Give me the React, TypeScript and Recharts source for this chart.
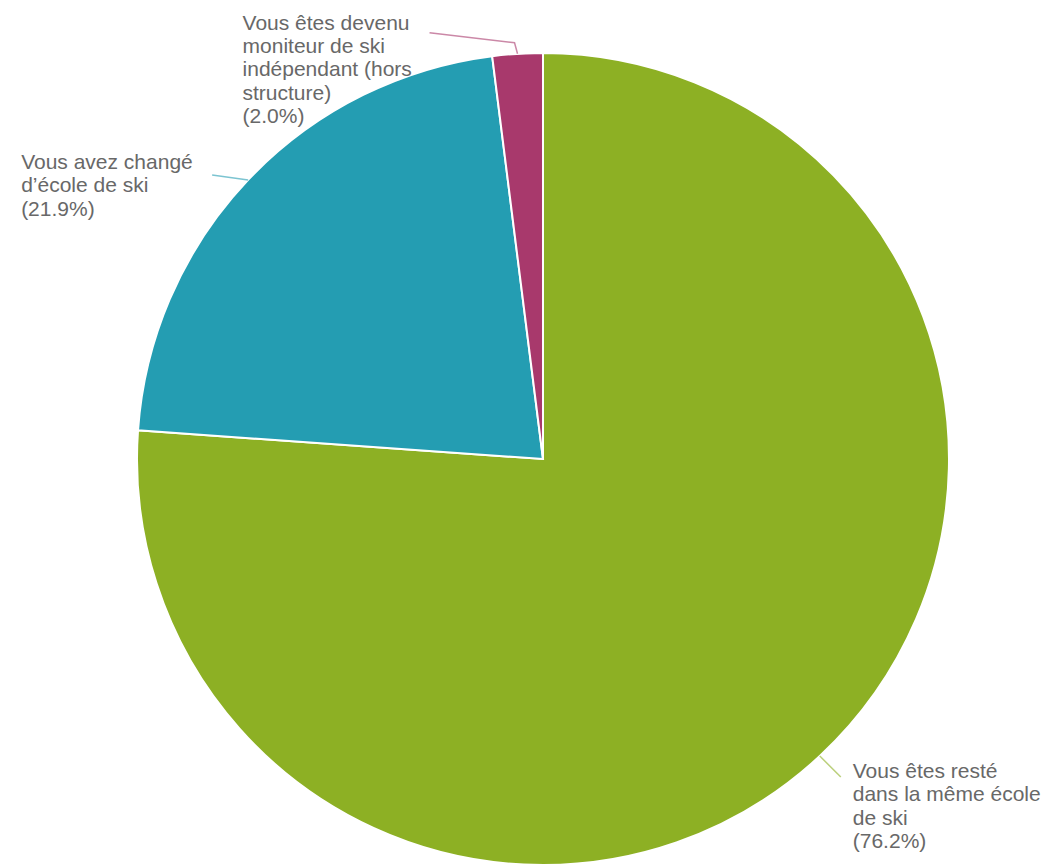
import React from "react";
import { PieChart, Pie, Cell } from "recharts";

const categories = [
  "Vous êtes resté dans la même école de ski",
  "Vous avez changé d’école de ski",
  "Vous êtes devenu moniteur de ski indépendant (hors structure)",
];
const shares = [76.2, 21.9, 2.0];
const labelLines = [
  ["Vous êtes resté", "dans la même école", "de ski", "(76.2%)"],
  ["Vous avez changé", "d’école de ski", "(21.9%)"],
  ["Vous êtes devenu", "moniteur de ski", "indépendant (hors", "structure)", "(2.0%)"],
];
const colors = ["#8DB024", "#249DB2", "#A8396C"];

const data = categories.map((name, i) => ({ name, value: shares[i] }));

// leader line bends and text offsets, relative to the slice's outer mid point
const layout = [
  { path: [[21, 21]], dx: 33, dy: 22 },
  { path: [[-36, -5]], dx: -227, dy: -11 },
  { path: [[-3, -11], [-88, -21]], dx: -275, dy: -24 },
];

const RAD = Math.PI / 180;

const renderLabel = (props: any) => {
  const { cx, cy, midAngle, outerRadius, index } = props;
  const sx = cx + outerRadius * Math.cos(-midAngle * RAD);
  const sy = cy + outerRadius * Math.sin(-midAngle * RAD);
  const l = layout[index];
  const pts = [[sx, sy], ...l.path.map(([x, y]) => [sx + x, sy + y])];
  return (
    <g key={`lbl-${index}`}>
      <polyline
        points={pts.map((p) => p.join(",")).join(" ")}
        fill="none"
        stroke={colors[index]}
        strokeOpacity={0.6}
        strokeWidth={1.5}
      />
      <text
        x={sx + l.dx}
        y={sy + l.dy}
        fill="#686868"
        fontSize={21}
        fontFamily="'Liberation Sans', Arial, sans-serif"
      >
        {labelLines[index].map((t, j) => (
          <tspan key={j} x={sx + l.dx} dy={j === 0 ? 0 : 23.3}>
            {t}
          </tspan>
        ))}
      </text>
    </g>
  );
};

export default function App() {
  return (
    <div style={{ width: 1047, height: 858 }}>
      <PieChart width={1047} height={858}>
        <Pie
          data={data}
          dataKey="value"
          nameKey="name"
          cx={530}
          cy={446}
          outerRadius={406}
          startAngle={90}
          endAngle={-270}
          stroke="#fff"
          strokeWidth={2}
          label={renderLabel}
          labelLine={false}
          isAnimationActive={false}
        >
          {data.map((d, i) => (
            <Cell key={d.name} fill={colors[i]} />
          ))}
        </Pie>
      </PieChart>
    </div>
  );
}
